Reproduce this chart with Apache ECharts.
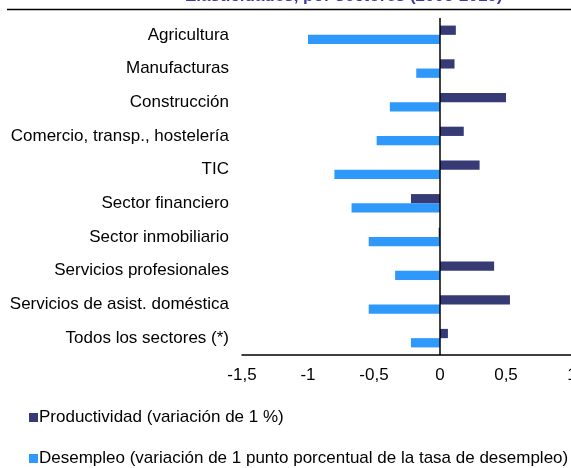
<!DOCTYPE html>
<html lang="es" style="height: 100%">
<head>
  <meta charset="utf-8">
</head>
<body style="height: 100%; margin: 0">
<div id="container" style="width: 571px; height: 468px"></div>

<script type="text/javascript" src="https://cdn.jsdelivr.net/npm/echarts@6/dist/echarts.min.js"></script>

<script type="text/javascript">
  var sectores = ['Agricultura', 'Manufacturas', 'Construcción', 'Comercio, transp., hostelería', 'TIC',
    'Sector financiero', 'Sector inmobiliario', 'Servicios profesionales', 'Servicios de asist. doméstica',
    'Todos los sectores (*)'];
  var productividad = [0.12, 0.11, 0.50, 0.18, 0.30, -0.22, -0.01, 0.41, 0.53, 0.06];
  var desempleo = [-1.00, -0.18, -0.38, -0.48, -0.80, -0.67, -0.54, -0.34, -0.54, -0.22];
  var ejeTicks = ['-1,5', '-1', '-0,5', '0', '0,5', '1'];

  var dom = document.getElementById('container');
  var myChart = echarts.init(dom, null, {renderer: 'canvas'});

  var font = 'Liberation Sans, Arial, sans-serif';

  var option = {
    animation: false,
    title: {
      text: 'Elasticidades, por sectores (2008-2019)',
      left: 180,
      top: -17,
      textStyle: {fontFamily: font, fontSize: 17, fontWeight: 'bold', color: '#3b3ba6'}
    },
    graphic: [{
      type: 'line',
      shape: {x1: 7, y1: 9.5, x2: 571, y2: 9.5},
      style: {stroke: '#000', lineWidth: 1.5}
    }],
    legend: {
      orient: 'vertical',
      left: 29,
      top: 409,
      padding: 0,
      itemGap: 24,
      itemWidth: 9,
      itemHeight: 9,
      icon: 'rect',
      textStyle: {fontFamily: font, fontSize: 17, color: '#000', padding: [0, 0, 0, -4]}
    },
    grid: {left: 242, top: 18, width: 330, height: 337, containLabel: false, outerBoundsMode: 'none'},
    xAxis: {
      type: 'value',
      min: -1.5,
      max: 1,
      interval: 0.5,
      splitLine: {show: false},
      axisTick: {show: false},
      axisLine: {show: true, onZero: false, lineStyle: {color: '#000', width: 1.5}},
      axisLabel: {
        fontFamily: font, fontSize: 17, color: '#000', margin: 12,
        formatter: function (v) { return ejeTicks[Math.round((v + 1.5) / 0.5)]; }
      }
    },
    yAxis: {
      type: 'category',
      inverse: true,
      data: sectores,
      axisLine: {show: false, onZero: false},
      axisTick: {show: false},
      axisLabel: {fontFamily: font, fontSize: 17, color: '#000', margin: 13}
    },
    series: [
      {
        name: 'Productividad (variación de 1 %)',
        type: 'bar',
        data: productividad,
        barGap: '0%',
        barCategoryGap: '45%',
        itemStyle: {color: '#363b76'},
        markLine: {
          silent: true,
          symbol: 'none',
          label: {show: false},
          lineStyle: {color: '#000', width: 1.5, type: 'solid'},
          data: [{xAxis: 0}]
        }
      },
      {
        name: 'Desempleo (variación de 1 punto porcentual de la tasa de desempleo)',
        type: 'bar',
        data: desempleo,
        barGap: '0%',
        barCategoryGap: '45%',
        itemStyle: {color: '#2f99fb'}
      }
    ]
  };

  myChart.setOption(option);
  window.addEventListener('resize', myChart.resize);
</script>
</body>
</html>
